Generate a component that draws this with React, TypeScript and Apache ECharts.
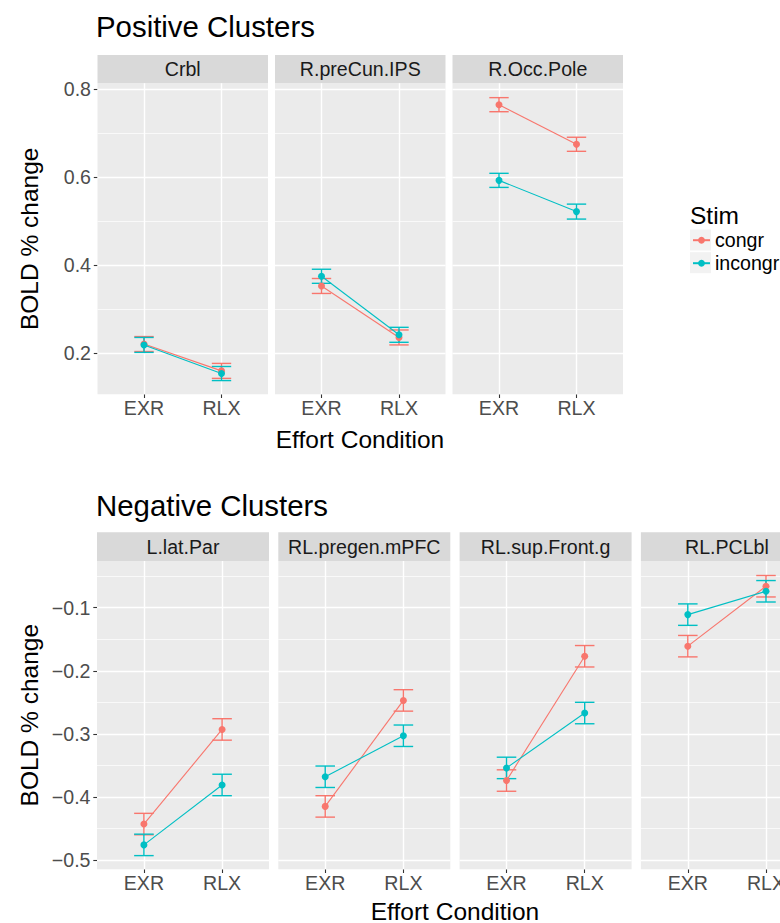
import { useEffect, useRef } from 'react';
import * as echarts from 'echarts';

// ---- data ----
const conditions = ['EXR', 'RLX'];
const stimLevels = ['congr', 'incongr'];
const stimColors = ['#F8766D', '#00BFC4'];

const positivePanels = ['Crbl', 'R.preCun.IPS', 'R.Occ.Pole'];
const positiveCongrMean = [[0.221, 0.160], [0.353, 0.236], [0.765, 0.675]];
const positiveCongrSe = [[0.017, 0.017], [0.017, 0.017], [0.016, 0.016]];
const positiveIncongrMean = [[0.219, 0.154], [0.375, 0.242], [0.593, 0.522]];
const positiveIncongrSe = [[0.017, 0.016], [0.016, 0.017], [0.016, 0.017]];
const positiveTicks = [0.2, 0.4, 0.6, 0.8];
const positiveTickLabels = ['0.2', '0.4', '0.6', '0.8'];
const positiveMinorTicks = [0.3, 0.5, 0.7];

const negativePanels = ['L.lat.Par', 'RL.pregen.mPFC', 'RL.sup.Front.g', 'RL.PCLbl'];
const negativeCongrMean = [[-0.443, -0.293], [-0.415, -0.247], [-0.374, -0.177], [-0.161, -0.066]];
const negativeCongrSe = [[0.017, 0.017], [0.017, 0.017], [0.017, 0.017], [0.017, 0.017]];
const negativeIncongrMean = [[-0.476, -0.381], [-0.368, -0.303], [-0.354, -0.267], [-0.111, -0.074]];
const negativeIncongrSe = [[0.017, 0.017], [0.017, 0.017], [0.017, 0.017], [0.017, 0.017]];
const negativeTicks = [-0.5, -0.4, -0.3, -0.2, -0.1];
const negativeTickLabels = ['\u22120.5', '\u22120.4', '\u22120.3', '\u22120.2', '\u22120.1'];
const negativeMinorTicks = [-0.45, -0.35, -0.25, -0.15, -0.05];

// ---- styling ----
const FONT = 'Liberation Sans, Arial, Helvetica, sans-serif';
const SMALL = 19.6;
const BASE = 24.5;
const TITLE = 29.4;
const PANEL_BG = '#EBEBEB';
const STRIP_BG = '#D9D9D9';

type Row = {
  title: string;
  panels: string[];
  means: number[][][];
  ses: number[][][];
  ticks: number[];
  tickLabels: string[];
  minorTicks: number[];
  yMin: number;
  yMax: number;
  left: number;
  step: number;
  width: number;
  stripTop: number;
  top: number;
  bottom: number;
  titleTop: number;
  xTitleX: number;
  xTitleY: number;
};

const rows: Row[] = [
  {
    title: 'Positive Clusters',
    panels: positivePanels,
    means: [positiveCongrMean, positiveIncongrMean],
    ses: [positiveCongrSe, positiveIncongrSe],
    ticks: positiveTicks,
    tickLabels: positiveTickLabels,
    minorTicks: positiveMinorTicks,
    yMin: 0.1068,
    yMax: 0.8136,
    left: 97.5,
    step: 177.5,
    width: 170.5,
    stripTop: 55,
    top: 83.3,
    bottom: 394.3,
    titleTop: 12,
    xTitleX: 360,
    xTitleY: 439,
  },
  {
    title: 'Negative Clusters',
    panels: negativePanels,
    means: [negativeCongrMean, negativeIncongrMean],
    ses: [negativeCongrSe, negativeIncongrSe],
    ticks: negativeTicks,
    tickLabels: negativeTickLabels,
    minorTicks: negativeMinorTicks,
    yMin: -0.5147,
    yMax: -0.026,
    left: 97,
    step: 181.3,
    width: 172,
    stripTop: 532.3,
    top: 561,
    bottom: 869.3,
    titleTop: 491,
    xTitleX: 455,
    xTitleY: 911,
  },
];

function errorBarRenderer(color: string) {
  return (_params: any, api: any) => {
    const x = api.value(0);
    const m = api.value(1);
    const s = api.value(2);
    const hi = api.coord([x, m + s]);
    const lo = api.coord([x, m - s]);
    const hl = api.coord([x - 0.125, m + s]);
    const hr = api.coord([x + 0.125, m + s]);
    const ll = api.coord([x - 0.125, m - s]);
    const lr = api.coord([x + 0.125, m - s]);
    const style = { stroke: color, lineWidth: 1.4, fill: 'none' };
    return {
      type: 'group',
      children: [
        { type: 'line', shape: { x1: hi[0], y1: hi[1], x2: lo[0], y2: lo[1] }, style },
        { type: 'line', shape: { x1: hl[0], y1: hl[1], x2: hr[0], y2: hr[1] }, style },
        { type: 'line', shape: { x1: ll[0], y1: ll[1], x2: lr[0], y2: lr[1] }, style },
      ],
    };
  };
}

function buildOption() {
  const grid: any[] = [];
  const xAxis: any[] = [];
  const yAxis: any[] = [];
  const series: any[] = [];
  const graphic: any[] = [];

  rows.forEach((row) => {
    row.panels.forEach((panel, p) => {
      const g = grid.length;
      const left = row.left + p * row.step;
      const first = p === 0;
      grid.push({
        left,
        top: row.top,
        width: row.width,
        height: row.bottom - row.top,
        show: true,
        backgroundColor: PANEL_BG,
        borderWidth: 0,
        containLabel: false,
        outerBoundsMode: 'none',
      });
      xAxis.push({
        gridIndex: g,
        type: 'value',
        min: 0.4,
        max: 2.6,
        splitLine: { show: false },
        axisLine: { show: false },
        axisTick: {
          show: true,
          length: 3.7,
          customValues: [1, 2],
          lineStyle: { color: '#333333', width: 1.1 },
        },
        axisLabel: {
          show: true,
          customValues: [1, 2],
          formatter: (v: number) => conditions[Math.round(v) - 1] ?? '',
          color: '#4D4D4D',
          fontSize: SMALL,
          fontFamily: FONT,
          margin: 4,
        },
      });
      yAxis.push({
        gridIndex: g,
        type: 'value',
        min: row.yMin,
        max: row.yMax,
        splitLine: { show: false },
        axisLine: { show: false },
        axisTick: {
          show: first,
          length: 3.7,
          customValues: row.ticks,
          lineStyle: { color: '#333333', width: 1.1 },
        },
        axisLabel: {
          show: first,
          customValues: row.ticks,
          formatter: (v: number) => {
            const k = row.ticks.findIndex((t) => Math.abs(t - v) < 1e-6);
            return k >= 0 ? row.tickLabels[k] : '';
          },
          color: '#4D4D4D',
          fontSize: SMALL,
          fontFamily: FONT,
          margin: 6.5,
        },
      });

      // panel grid lines, kept beneath the data marks
      const white = (w: number) => ({ color: '#FFFFFF', width: w, type: 'solid' });
      series.push({
        type: 'line',
        name: 'grid-' + g,
        xAxisIndex: g,
        yAxisIndex: g,
        data: [],
        silent: true,
        z: 1,
        markLine: {
          z: 1,
          silent: true,
          symbol: ['none', 'none'],
          label: { show: false },
          emphasis: { disabled: true },
          data: [
            ...row.minorTicks.map((v) => ({ yAxis: v, lineStyle: white(0.7) })),
            ...row.ticks.map((v) => ({ yAxis: v, lineStyle: white(1.4) })),
            ...conditions.map((_c, k) => ({ xAxis: k + 1, lineStyle: white(1.4) })),
          ],
        },
      });

      // error bars
      stimLevels.forEach((stim, s) => {
        series.push({
          type: 'custom',
          name: stim + ' se',
          xAxisIndex: g,
          yAxisIndex: g,
          silent: true,
          z: 3,
          renderItem: errorBarRenderer(stimColors[s]),
          encode: { x: 0, y: 1 },
          data: conditions.map((_c, k) => [k + 1, row.means[s][p][k], row.ses[s][p][k]]),
        });
      });
      // means with connecting lines
      stimLevels.forEach((stim, s) => {
        series.push({
          type: 'line',
          name: stim,
          xAxisIndex: g,
          yAxisIndex: g,
          silent: true,
          z: 4,
          symbol: 'circle',
          symbolSize: 7,
          showSymbol: true,
          lineStyle: { color: stimColors[s], width: 1.1 },
          itemStyle: { color: stimColors[s] },
          data: conditions.map((_c, k) => [k + 1, row.means[s][p][k]]),
        });
      });

      // facet strip
      graphic.push({
        type: 'rect',
        z: 0,
        shape: { x: left, y: row.stripTop, width: row.width, height: row.top - row.stripTop },
        style: { fill: STRIP_BG },
      });
      graphic.push({
        type: 'text',
        z: 1,
        x: left + row.width / 2,
        y: (row.stripTop + row.top) / 2,
        style: {
          text: panel,
          fill: '#1A1A1A',
          font: `${SMALL}px ${FONT}`,
          align: 'center',
          verticalAlign: 'middle',
        },
      });
    });

    // axis titles
    graphic.push({
      type: 'text',
      z: 1,
      x: row.xTitleX,
      y: row.xTitleY,
      style: {
        text: 'Effort Condition',
        fill: '#000000',
        font: `${BASE}px ${FONT}`,
        align: 'center',
        verticalAlign: 'middle',
      },
    });
    graphic.push({
      type: 'text',
      z: 1,
      x: 29,
      y: (row.top + row.bottom) / 2,
      rotation: Math.PI / 2,
      style: {
        text: 'BOLD % change',
        fill: '#000000',
        font: `${BASE}px ${FONT}`,
        align: 'center',
        verticalAlign: 'middle',
      },
    });
  });

  // legend title and key backgrounds
  graphic.push({
    type: 'text',
    z: 1,
    x: 690,
    y: 215.5,
    style: {
      text: 'Stim',
      fill: '#000000',
      font: `${BASE}px ${FONT}`,
      align: 'left',
      verticalAlign: 'middle',
    },
  });
  stimLevels.forEach((_s, k) => {
    graphic.push({
      type: 'rect',
      z: 0,
      shape: { x: 690, y: 229.5 + k * 22.7, width: 21, height: 21 },
      style: { fill: '#F2F2F2' },
    });
  });

  return {
    animation: false,
    backgroundColor: '#FFFFFF',
    title: rows.map((row) => ({
      text: row.title,
      left: 96,
      top: row.titleTop,
      padding: 0,
      textStyle: { fontSize: TITLE, fontWeight: 'normal', color: '#000000', fontFamily: FONT },
    })),
    legend: {
      data: stimLevels,
      orient: 'vertical',
      left: 692,
      top: 230.2,
      padding: 0,
      itemWidth: 17,
      itemHeight: 8.5,
      itemGap: 3,
      selectedMode: false,
      z: 10,
      textStyle: { fontSize: SMALL, color: '#000000', fontFamily: FONT },
    },
    grid,
    xAxis,
    yAxis,
    series,
    graphic,
  };
}

export default function App() {
  const ref = useRef<HTMLDivElement>(null);
  useEffect(() => {
    if (!ref.current) return;
    const chart = echarts.init(ref.current, undefined, { renderer: 'svg' });
    chart.setOption(buildOption() as any);
    return () => chart.dispose();
  }, []);
  return (
    <div
      ref={ref}
      style={{ position: 'absolute', left: 0, top: 0, width: 780, height: 923 }}
    />
  );
}
